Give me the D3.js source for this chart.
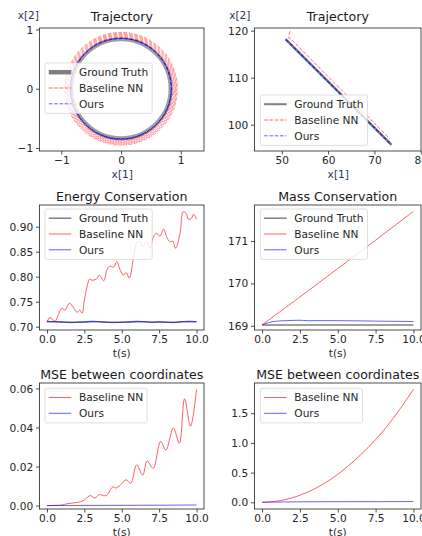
<!DOCTYPE html>
<html><head><meta charset="utf-8">
<script src="https://cdn.jsdelivr.net/npm/d3@7"></script>
<style>body{margin:0;background:#fff}svg{display:block;font-family:"DejaVu Sans",sans-serif}</style>
</head><body>
<script>
// ---------- DATA ----------
// Trajectory (circular orbit)
const gtRadius = [0.83];
const oursRadius = [0.84, 0.845];
const baselineRadii = [0.855, 0.87, 0.885, 0.9, 0.915, 0.93, 0.945];
const trajTicks = [-1, 0, 1];
// Trajectory (drifting body)
const gtLineX = [50.8, 73.7];
const gtLineY = [118.2, 95.7];
const baseLineX = [51.8, 51.5, 52.3, 54.2, 56.5, 60, 65, 70, 73.3];
const baseLineY = [119.9, 118.6, 117.9, 116.0, 113.7, 110.2, 105.3, 100.3, 97.0];
const oursLineX = [50.9, 73.6];
const oursLineY = [118.1, 95.8];
const traj2XTicks = [50, 60, 70, 80];
const traj2YTicks = [100, 110, 120];
// Energy conservation
const energyT = [0, 0.2, 0.4, 0.55, 0.8, 1.0, 1.2, 1.5, 1.8, 2.0, 2.2, 2.35, 2.5, 2.7, 2.85, 3.0, 3.3, 3.5, 3.8, 4.0, 4.2, 4.45, 4.67, 4.9, 5.1, 5.3, 5.5, 5.8, 6.0, 6.2, 6.4, 6.67, 6.9, 7.1, 7.33, 7.55, 7.8, 8.0, 8.2, 8.4, 8.6, 8.9, 9.1, 9.3, 9.45, 9.67, 9.8, 10.0];
const energyBaseline = [0.709, 0.719, 0.713, 0.711, 0.727, 0.737, 0.733, 0.747, 0.737, 0.729, 0.733, 0.727, 0.753, 0.783, 0.795, 0.793, 0.795, 0.803, 0.792, 0.813, 0.821, 0.819, 0.830, 0.813, 0.803, 0.808, 0.797, 0.840, 0.867, 0.870, 0.860, 0.870, 0.857, 0.879, 0.887, 0.881, 0.895, 0.880, 0.870, 0.871, 0.857, 0.887, 0.930, 0.927, 0.915, 0.917, 0.925, 0.915];
const energyFlatT = [0, 0.5, 1, 1.5, 2, 2.5, 3, 3.5, 4, 4.5, 5, 5.5, 6, 6.5, 7, 7.5, 8, 8.5, 9, 9.5, 10];
const energyGT = [0.710, 0.710, 0.709, 0.709, 0.709, 0.709, 0.710, 0.710, 0.709, 0.709, 0.709, 0.709, 0.710, 0.710, 0.709, 0.709, 0.709, 0.709, 0.710, 0.710, 0.710];
const energyOurs = [0.711, 0.710, 0.710, 0.708, 0.709, 0.710, 0.711, 0.710, 0.709, 0.708, 0.709, 0.710, 0.711, 0.710, 0.709, 0.710, 0.709, 0.708, 0.710, 0.711, 0.710];
const energyTicks = [0.70, 0.75, 0.80, 0.85, 0.90];
// Mass conservation
const massGTT = [0, 10];
const massGT = [169.02, 169.02];
const massBaseT = [0, 2.5, 5, 7.5, 10];
const massBaseline = [169.02, 169.68, 170.35, 171.02, 171.70];
const massOursT = [0, 0.5, 1.0, 1.5, 2.5, 3.0, 5.0, 7.5, 10];
const massOurs = [169.02, 169.08, 169.11, 169.12, 169.13, 169.12, 169.12, 169.11, 169.10];
const massTicks = [169, 170, 171];
// MSE (left)
const mse1T = [0, 0.5, 1.0, 1.33, 1.7, 2.0, 2.45, 2.9, 3.2, 3.5, 3.8, 4.0, 4.4, 4.6, 4.9, 5.3, 5.6, 6.0, 6.4, 6.7, 7.1, 7.6, 7.95, 8.45, 8.85, 9.2, 9.6, 10.0];
const mse1Baseline = [0, 0.0001, 0.0003, 0.0009, 0.0013, 0.0016, 0.0026, 0.0051, 0.0039, 0.0056, 0.0051, 0.0052, 0.0096, 0.0090, 0.0105, 0.0132, 0.0114, 0.0209, 0.0156, 0.0228, 0.0191, 0.0328, 0.0284, 0.0398, 0.0319, 0.0547, 0.0407, 0.0595];
const mse1OursT = [0, 2, 4, 6, 8, 10];
const mse1Ours = [0, 0.00005, 0.0001, 0.00015, 0.0002, 0.0003];
const mse1Ticks = [0.00, 0.02, 0.04, 0.06];
// MSE (right)
const mse2T = [0, 1, 2, 3, 4, 5, 6, 7, 8, 9, 10];
const mse2Baseline = [0, 0.02, 0.075, 0.17, 0.30, 0.47, 0.68, 0.92, 1.20, 1.53, 1.90];
const mse2OursT = [0, 2.5, 5, 7.5, 10];
const mse2Ours = [0.0, 0.008, 0.010, 0.011, 0.012];
const mse2Ticks = [0.0, 0.5, 1.0, 1.5];
const timeTicks = [0, 2.5, 5, 7.5, 10];

// ---------- STYLE ----------
const RED = "#ff0000", BLUE = "#0000ff", GRAY = "#7f7f7f";
const W = 422, H = 536;
const svg = d3.select("body").append("svg").attr("width", W).attr("height", H);
svg.append("rect").attr("width", W).attr("height", H).attr("fill", "#fff");
const COLS = [[39.5, 204], [254.5, 421]];
const ROWS = [[28, 151], [205, 330], [383, 509]];
let clipId = 0;

function panel(opt) {
  const [x0, x1] = COLS[opt.col], [y0, y1] = ROWS[opt.row];
  const x = d3.scaleLinear().domain(opt.xd).range([x0, x1]);
  const y = d3.scaleLinear().domain(opt.yd).range([y1, y0]);
  const g = svg.append("g");
  const id = "clip" + (clipId++);
  g.append("clipPath").attr("id", id).append("rect")
    .attr("x", x0).attr("y", y0).attr("width", x1 - x0).attr("height", y1 - y0);
  const plot = g.append("g").attr("clip-path", `url(#${id})`);
  const ax = g.append("g").attr("transform", `translate(0,${y1})`)
    .call(d3.axisBottom(x).tickValues(opt.xticks).tickFormat(opt.xfmt).tickSize(3.5).tickPadding(1.8));
  const ay = g.append("g").attr("transform", `translate(${x0},0)`)
    .call(d3.axisLeft(y).tickValues(opt.yticks).tickFormat(opt.yfmt).tickSize(3.5).tickPadding(2.8));
  [ax, ay].forEach(a => {
    a.select(".domain").remove();
    a.selectAll("line").attr("stroke", "#222").attr("stroke-width", 0.8);
    a.selectAll("text").attr("font-family", "DejaVu Sans").attr("font-size", 10.6).attr("fill", "#262626");
  });
  ay.selectAll("text").attr("dy", "0.34em");
  g.append("rect").attr("x", x0).attr("y", y0).attr("width", x1 - x0).attr("height", y1 - y0)
    .attr("fill", "none").attr("stroke", "#222").attr("stroke-width", 0.8);
  g.append("text").attr("x", (x0 + x1) / 2).attr("y", opt.titleY).attr("text-anchor", "middle")
    .attr("font-size", 12.6).attr("fill", "#1a1a1a").text(opt.title);
  return {g, plot, x, y, x0, x1, y0, y1};
}

function line(p, xs, ys, style) {
  const gen = d3.line().x(d => p.x(d[0])).y(d => p.y(d[1])).curve(style.curve || d3.curveCatmullRom.alpha(0.5));
  p.plot.append("path").attr("d", gen(d3.zip(xs, ys)))
    .attr("fill", "none").attr("stroke", style.color).attr("stroke-width", style.width || 1)
    .attr("stroke-opacity", style.opacity == null ? 1 : style.opacity)
    .attr("stroke-dasharray", style.dash || null).attr("stroke-linejoin", "round");
}

function legend(p, bx, by, items) {
  const lg = p.g.append("g");
  const box = lg.append("rect");
  const step = 15.8, start = 9.2;
  let maxLen = 0;
  items.forEach((it, i) => {
    const cy = by + start + i * step;
    lg.append("line").attr("x1", bx + 3.8).attr("x2", bx + 26.3).attr("y1", cy).attr("y2", cy)
      .attr("stroke", it.color).attr("stroke-width", it.width || 1)
      .attr("stroke-opacity", it.opacity == null ? 1 : it.opacity)
      .attr("stroke-dasharray", it.dash || null);
    const t = lg.append("text").attr("x", bx + 34).attr("y", cy).attr("dy", "0.35em")
      .attr("font-size", 10.6).attr("fill", "#262626").text(it.label);
    maxLen = Math.max(maxLen, t.node().getComputedTextLength());
  });
  const h = start * 2 + (items.length - 1) * step + 0.4;
  box.attr("x", bx).attr("y", by).attr("width", 34 + maxLen + 4).attr("height", h)
    .attr("rx", 2).attr("fill", "#fff").attr("fill-opacity", 0.8)
    .attr("stroke", "#cccccc").attr("stroke-opacity", 0.8).attr("stroke-width", 0.8);
}

const f0 = d3.format("d"), f1 = d3.format(".1f"), f2 = d3.format(".2f");
const minusFmt = d => f0(d).replace("-", "\u2212");
const DASH = "3.7,1.6";

// ---------- Panel 1: circular trajectory ----------
const p1 = panel({col: 0, row: 0, xd: [-1.366, 1.39], yd: [-1.05, 1.024], xticks: trajTicks, yticks: trajTicks,
  xfmt: minusFmt, yfmt: minusFmt, title: "Trajectory", titleY: 21});
const cx = p1.x(0), cy = p1.y(0);
gtRadius.forEach(r => p1.plot.append("circle").attr("cx", cx).attr("cy", cy)
  .attr("r", p1.x(r) - p1.x(0)).attr("fill", "none").attr("stroke", GRAY).attr("stroke-width", 4).attr("stroke-opacity", 0.75));
baselineRadii.forEach((r, i) => p1.plot.append("circle").attr("cx", cx).attr("cy", cy)
  .attr("r", p1.x(r) - p1.x(0)).attr("fill", "none").attr("stroke", RED).attr("stroke-width", 0.9)
  .attr("stroke-opacity", 0.42).attr("stroke-dasharray", DASH).attr("stroke-dashoffset", i * 1.3));
oursRadius.forEach((r, i) => p1.plot.append("circle").attr("cx", cx).attr("cy", cy)
  .attr("r", p1.x(r) - p1.x(0)).attr("fill", "none").attr("stroke", BLUE).attr("stroke-width", 1)
  .attr("stroke-opacity", 0.75).attr("stroke-dasharray", DASH).attr("stroke-dashoffset", i * 2.6));
legend(p1, 45, 63, [
  {label: "Ground Truth", color: GRAY, width: 4.5},
  {label: "Baseline NN", color: RED, width: 1, opacity: 0.6, dash: DASH},
  {label: "Ours", color: BLUE, width: 1, opacity: 0.6, dash: DASH}]);

// ---------- Panel 2: linear trajectory ----------
const p2 = panel({col: 1, row: 0, xd: [44.1, 80.05], yd: [94.4, 120.57], xticks: traj2XTicks, yticks: traj2YTicks,
  xfmt: f0, yfmt: f0, title: "Trajectory", titleY: 21});
line(p2, gtLineX, gtLineY, {color: GRAY, width: 2.5, curve: d3.curveLinear});
line(p2, baseLineX, baseLineY, {color: RED, width: 1, opacity: 0.6, dash: DASH});
line(p2, oursLineX, oursLineY, {color: BLUE, width: 1.3, opacity: 0.7, dash: DASH, curve: d3.curveLinear});
legend(p2, 260.3, 95, [
  {label: "Ground Truth", color: GRAY, width: 2},
  {label: "Baseline NN", color: RED, width: 1, opacity: 0.6, dash: DASH},
  {label: "Ours", color: BLUE, width: 1, opacity: 0.6, dash: DASH}]);

// axis labels row 1
const labColor = "#2b3556";
[[p1, 39], [p2, 250.5]].forEach(([p, xe]) => {
  svg.append("text").attr("x", xe).attr("y", 18.5).attr("text-anchor", "end")
    .attr("font-size", 10.6).attr("fill", labColor).text("x[2]");
  svg.append("text").attr("x", (p.x0 + p.x1) / 2 + 0.5).attr("y", 177.5).attr("text-anchor", "middle")
    .attr("font-size", 10.6).attr("fill", labColor).text("x[1]");
});

// ---------- Panel 3: energy ----------
const tDom = [-0.5, 10.5];
const p3 = panel({col: 0, row: 1, xd: tDom, yd: [0.6934, 0.9434], xticks: timeTicks, yticks: energyTicks,
  xfmt: f1, yfmt: f2, title: "Energy Conservation", titleY: 201});
line(p3, energyFlatT, energyGT, {color: GRAY, width: 1.5});
line(p3, energyT, energyBaseline, {color: RED, width: 1, opacity: 0.62});
line(p3, energyFlatT, energyOurs, {color: BLUE, width: 1, opacity: 0.62});
const solidItems = [
  {label: "Ground Truth", color: GRAY, width: 1.5},
  {label: "Baseline NN", color: RED, width: 1, opacity: 0.62},
  {label: "Ours", color: BLUE, width: 1, opacity: 0.62}];
legend(p3, 45, 209, solidItems);

// ---------- Panel 4: mass ----------
const p4 = panel({col: 1, row: 1, xd: tDom, yd: [168.9, 171.85], xticks: timeTicks, yticks: massTicks,
  xfmt: f1, yfmt: f0, title: "Mass Conservation", titleY: 201});
line(p4, massGTT, massGT, {color: GRAY, width: 1.5});
line(p4, massBaseT, massBaseline, {color: RED, width: 1, opacity: 0.62});
line(p4, massOursT, massOurs, {color: BLUE, width: 1, opacity: 0.62, curve: d3.curveMonotoneX});
legend(p4, 260.3, 209, solidItems);

// ---------- Panel 5: MSE left ----------
const p5 = panel({col: 0, row: 2, xd: tDom, yd: [-0.00176, 0.0628], xticks: timeTicks, yticks: mse1Ticks,
  xfmt: f1, yfmt: f2, title: "MSE between coordinates", titleY: 379});
line(p5, mse1T, mse1Baseline, {color: RED, width: 1, opacity: 0.62});
line(p5, mse1OursT, mse1Ours, {color: BLUE, width: 1, opacity: 0.62});
legend(p5, 45, 388.3, solidItems.slice(1));

// ---------- Panel 6: MSE right ----------
const p6 = panel({col: 1, row: 2, xd: tDom, yd: [-0.113, 2.008], xticks: timeTicks, yticks: mse2Ticks,
  xfmt: f1, yfmt: f1, title: "MSE between coordinates", titleY: 379});
line(p6, mse2T, mse2Baseline, {color: RED, width: 1, opacity: 0.62});
line(p6, mse2OursT, mse2Ours, {color: BLUE, width: 1, opacity: 0.62});
legend(p6, 260.3, 388.3, solidItems.slice(1));

// t(s) labels
[[p3, 356.5], [p4, 356.5], [p5, 535.5], [p6, 535.5]].forEach(([p, yb]) => {
  svg.append("text").attr("x", (p.x0 + p.x1) / 2).attr("y", yb).attr("text-anchor", "middle")
    .attr("font-size", 10.6).attr("fill", "#262626").text("t(s)");
});
</script>
</body></html>
